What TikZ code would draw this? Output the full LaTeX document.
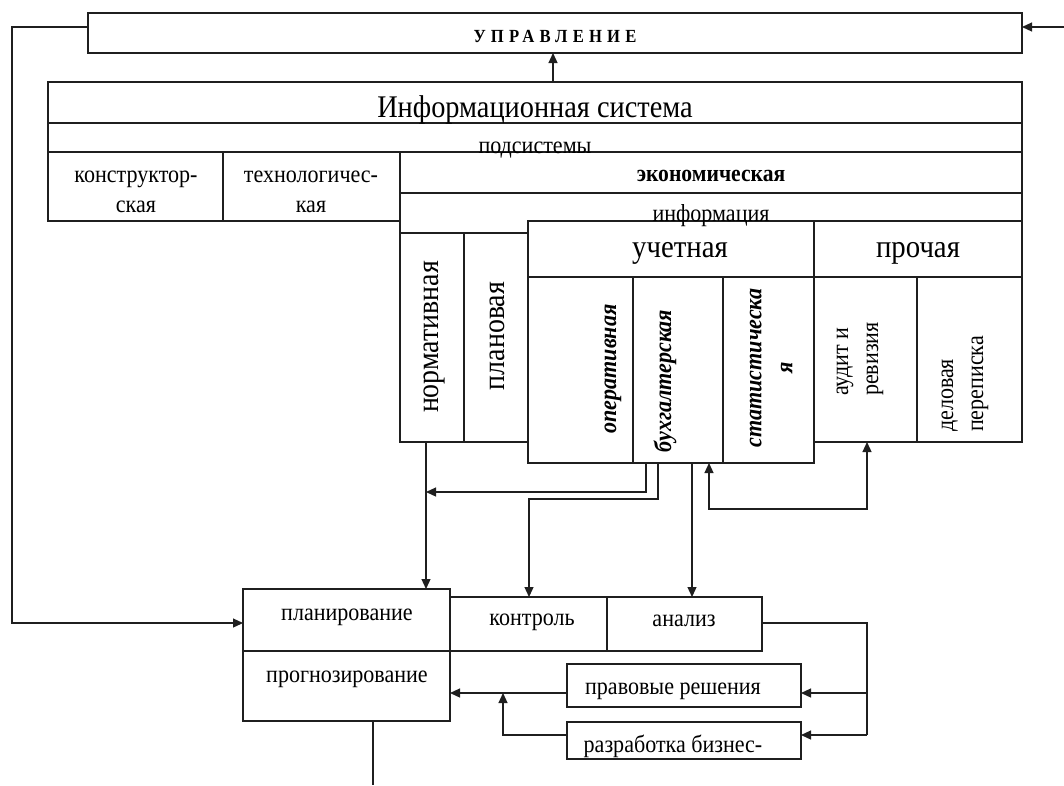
\documentclass[tikz,border=0pt]{standalone}
\usepackage{fontspec}
\setmainfont{Liberation Serif}[FakeStretch=0.9]
\usetikzlibrary{arrows.meta}
\newcommand\bxnode[5]{\node[box,minimum width={(#4-#2)*1pt},minimum height={(#5-#3)*1pt}] (#1) at (#2,#3) {};}
\begin{document}
\begin{tikzpicture}[x=1pt,y=-1pt,
  ln/.style={line width=1.2pt,draw=black!88},
  box/.style={ln,rectangle,inner sep=0pt,outer sep=0pt,anchor=north west},
  arr/.style={ln,-{Triangle[length=10pt,width=9pt]}},
  dbl/.style={ln,{Triangle[length=10pt,width=9pt]}-{Triangle[length=10pt,width=9pt]}},
  tx/.style={inner sep=0pt,align=center,font=\fontsize{24.5}{30}\selectfont},
  big/.style={inner sep=0pt,font=\fontsize{31}{34}\selectfont},
  bi/.style={inner sep=0pt,align=center,font=\fontsize{24.5}{31}\selectfont\bfseries\itshape},
]
\fill[white] (0,0) rectangle (1064,785);
\useasboundingbox (0,0) rectangle (1064,785);

% boxes
\bxnode{upr}{88}{13}{1022}{53}
\bxnode{isT}{48}{82}{1022}{123}
\bxnode{isP}{48}{123}{1022}{152}
\bxnode{kon}{48}{152}{223}{221}
\bxnode{teh}{223}{152}{400}{221}
\bxnode{eco}{400}{152}{1022}{193}
\bxnode{norm}{400}{233}{464}{442}
\bxnode{plv}{464}{233}{528}{442}
\bxnode{uch}{528}{221}{814}{277}
\bxnode{op}{528}{277}{633}{463}
\bxnode{buh}{633}{277}{723}{463}
\bxnode{stat}{723}{277}{814}{463}
\bxnode{pro}{814}{221}{1022}{277}
\bxnode{aud}{814}{277}{917}{442}
\bxnode{del}{917}{277}{1022}{442}
\bxnode{plan}{243}{589}{450}{651}
\bxnode{prog}{243}{651}{450}{721}
\bxnode{kont}{450}{597}{607}{651}
\bxnode{anal}{607}{597}{762}{651}
\bxnode{prav}{567}{664}{801}{707}
\bxnode{razr}{567}{722}{801}{759}

% information row outline
\draw[ln] (eco.south west) -- (norm.north west);
\draw[ln] (eco.south east) -- (pro.north east);

% texts
\node[inner sep=0pt,anchor=base,font=\fontsize{18.5}{20}\selectfont\bfseries\addfontfeature{LetterSpace=28}] (tUpr) at (555,42.5) {УПРАВЛЕНИЕ};
\node[big,anchor=base,font=\fontsize{31.5}{34}\selectfont] (tIS) at (535,117) {Информационная система};
\node[tx,anchor=base] (tPod) at (535,153) {подсистемы};
\node[tx,anchor=base] (tKon) at (136,212) {конструктор-\\ская};
\node[tx,anchor=base] (tTeh) at (311,212) {технологичес-\\кая};
\node[tx,anchor=base,font=\fontsize{24}{30}\selectfont\bfseries] (tEco) at (711,181) {экономическая};
\node[tx,anchor=base] (tInf) at (711,221) {информация};
\node[big,anchor=base,font=\fontsize{32}{34}\selectfont] (tUch) at (680,257) {учетная};
\node[big,anchor=base,font=\fontsize{32}{34}\selectfont] (tPro) at (918,257) {прочая};
\node[big,rotate=90] (tNorm) at (434,337) {нормативная};
\node[big,rotate=90] (tPlv) at (497,336) {плановая};
\node[bi,rotate=90] (tOp) at (613,369) {оперативная};
\node[bi,rotate=90] (tBuh) at (665,381) {бухгалтерская};
\node[bi,rotate=90] (tStat) at (771,368) {статистическа\\я};
\node[tx,rotate=90,align=left] (tAud) at (860,359) {аудит и\\ревизия};
\node[tx,rotate=90,align=left] (tDel) at (965,384) {деловая\\переписка};
\node[tx,anchor=base] (tPlan) at (347,620) {планирование};
\node[tx,anchor=base] (tProg) at (347,682) {прогнозирование};
\node[tx,anchor=base] (tKont) at (532,625) {контроль};
\node[tx,anchor=base] (tAnal) at (684,626) {анализ};
\node[tx,anchor=base] (tPrav) at (673,694) {правовые решения};
\node[tx,anchor=base] (tRazr) at (673,752) {разработка бизнес-};

% connectors
\coordinate (rin) at (1064,27);
\draw[arr] (rin) -- (rin -| upr.east);
\coordinate (lt) at (12,27);
\coordinate (lb) at (12,623);
\draw[arr] (lt -| upr.west) -- (lt) -- (lb) -- (lb -| plan.west);
\coordinate (ax) at (553,70);
\draw[arr] (ax |- isT.north) -- (ax |- upr.south);
\coordinate (nx) at (426,500);
\draw[arr] (nx |- norm.south) -- (nx |- plan.north);
\coordinate (b1) at (646,492);
\draw[arr] (b1 |- buh.south) -- (b1) -- (nx |- b1);
\coordinate (b2) at (658,499);
\coordinate (k2) at (529,499);
\draw[arr] (b2 |- buh.south) -- (b2) -- (k2) -- (k2 |- kont.north);
\coordinate (b3) at (692,530);
\draw[arr] (b3 |- buh.south) -- (b3 |- anal.north);
\coordinate (u1) at (709,509);
\coordinate (u2) at (867,509);
\draw[dbl] (u1 |- buh.south) -- (u1) -- (u2) -- (u2 |- aud.south);
\coordinate (r1) at (867,623);
\coordinate (r2) at (867,693);
\coordinate (r3) at (867,735);
\draw[ln] (r1 -| anal.east) -- (r1) -- (r3);
\draw[arr] (r2) -- (r2 -| prav.east);
\draw[arr] (r3) -- (r3 -| razr.east);
\coordinate (p1) at (520,693);
\draw[arr] (p1 -| prav.west) -- (p1 -| prog.east);
\coordinate (q1) at (503,735);
\draw[arr] (q1 -| razr.west) -- (q1) -- (q1 |- p1);
\coordinate (d1) at (373,785);
\draw[ln] (d1 |- prog.south) -- (d1);
\end{tikzpicture}
\end{document}
